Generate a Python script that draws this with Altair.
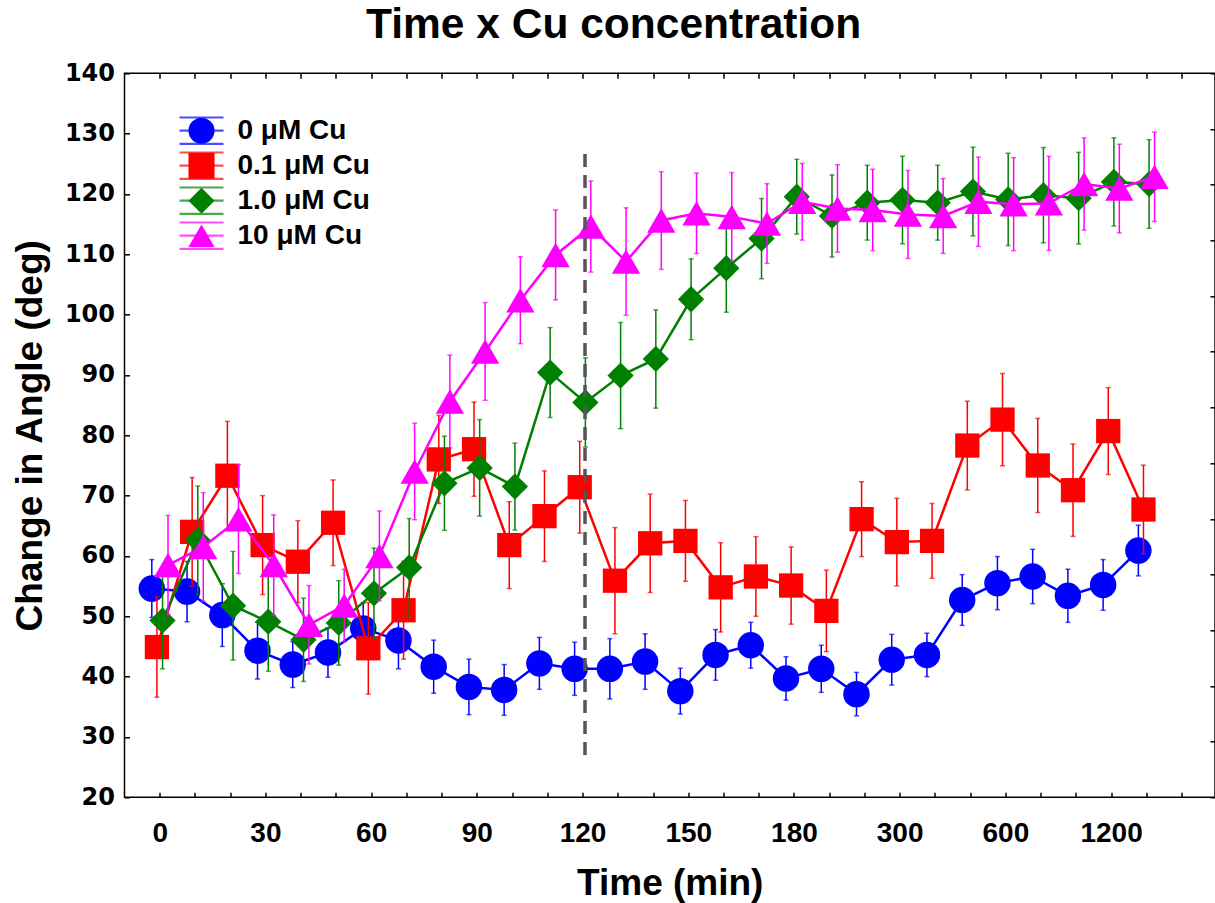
import altair as alt
import pandas as pd

# ---------------- data ----------------
time_tick_labels = ["0", "30", "60", "90", "120", "150", "180", "300", "600", "1200"]
series_names = ["0 μM Cu", "0.1 μM Cu", "1.0 μM Cu", "10 μM Cu"]

cu0_mean = [54.6, 54.1, 50.2, 44.3, 42.0, 44.0, 48.0, 46.0, 41.65, 38.3, 37.8, 42.2, 41.3, 41.3,
            42.5, 37.6, 43.6, 45.2, 39.7, 41.3, 37.1, 42.8, 43.6, 52.7, 55.5, 56.6, 53.4, 55.2, 60.9]
cu0_se = [4.8, 5.0, 5.2, 4.7, 3.8, 4.1, 4.2, 4.7, 4.4, 4.6, 4.2, 4.3, 4.4, 5.0,
          4.6, 3.8, 4.2, 3.8, 3.6, 3.9, 3.6, 4.2, 3.6, 4.2, 4.4, 4.5, 4.4, 4.2, 4.2]

cu01_mean = [44.9, 64.0, 73.3, 61.8, 59.05, 65.5, 44.7, 51.0, 76.0, 77.7, 61.8, 66.6, 71.4, 55.9,
             62.1, 62.5, 54.8, 56.6, 55.1, 50.9, 66.1, 62.3, 62.5, 78.3, 82.6, 75.0, 70.9, 80.7, 67.7]
cu01_se = [8.3, 9.0, 9.0, 8.2, 6.8, 7.1, 7.6, 8.1, 7.3, 7.8, 7.2, 7.5, 7.6, 8.8,
           8.15, 6.7, 7.4, 6.6, 6.4, 6.75, 6.2, 7.25, 6.2, 7.35, 7.65, 7.8, 7.65, 7.2, 7.35]

cu1_mean = [49.3, 62.6, 51.75, 49.1, 46.1, 48.9, 53.8, 58.1, 72.05, 74.6, 71.5, 90.4, 85.45, 89.9,
            92.65, 102.55, 107.7, 112.6, 119.55, 116.35, 118.55, 119.0, 118.55, 120.4, 119.1, 119.8,
            119.3, 122.0, 121.65]
cu1_se = [8.0, 9.0, 9.0, 8.2, 6.9, 7.0, 7.5, 8.1, 7.8, 8.0, 7.2, 7.45, 7.4, 8.8,
          8.15, 6.7, 7.3, 6.65, 6.2, 6.8, 6.2, 7.25, 6.2, 7.35, 7.65, 7.9, 7.6, 7.3, 7.35]

cu10_mean = [58.5, 61.5, 66.1, 58.5, 48.6, 51.8, 60.0, 74.0, 85.6, 93.9, 102.4, 109.9, 114.6, 108.8,
             115.6, 116.8, 116.2, 115.1, 118.7, 117.6, 117.35, 116.6, 116.35, 118.7, 118.3, 118.45,
             121.65, 120.9, 122.85]
cu10_se = [8.2, 9.0, 9.0, 8.3, 6.5, 6.0, 7.45, 8.0, 7.7, 8.1, 7.2, 7.45, 7.55, 8.9,
           8.1, 6.65, 7.35, 6.6, 6.35, 7.25, 6.75, 7.3, 6.2, 7.4, 7.7, 7.8, 7.65, 7.35, 7.4]

cu_added_index = [12.07]
cu_marker_from = [27]
cu_marker_to = [127]

# ---------------- styles ----------------
series_colors = ["#0000ff", "#ff0000", "#008000", "#ff00ff"]
series_shapes = ["circle", "square", "diamond", "triangle-up"]
marker_sizes = [700, 590, 690, 800]
dodge = [-0.225, -0.08, 0.08, 0.235]

x_domain = [-1, 29.95]
y_domain = [20, 140]

frames = []
for name, means, ses in zip(series_names, [cu0_mean, cu01_mean, cu1_mean, cu10_mean],
                            [cu0_se, cu01_se, cu1_se, cu10_se]):
    frames.append(pd.DataFrame({"series": name, "series_l": name, "idx": list(range(len(means))),
                                "mean": means, "se": ses}))
df = pd.concat(frames, ignore_index=True)

label_list = "[" + ",".join("'%s'" % t for t in time_tick_labels) + "]"
label_expr = "(datum.value %% 3 == 0 && datum.value / 3 < %d) ? %s[datum.value / 3] : ''" % (
    len(time_tick_labels), label_list)

FONT = "Liberation Sans"

x_scale = alt.Scale(domain=x_domain, nice=False, zero=False)
y_scale = alt.Scale(domain=y_domain, nice=False, zero=False)

x_axis = alt.Axis(values=list(range(30)), labelExpr=label_expr, tickSize=5, offset=-5, domain=False,
                  grid=False, labelFont=FONT, labelFontWeight="bold", labelFontSize=28, labelPadding=22,
                  labelOverlap=False, labelColor="black", tickColor="black", tickWidth=1.5,
                  title="Time (min)", titleFont=FONT, titleFontSize=37, titleFontWeight="bold",
                  titleColor="black", titleBaseline="alphabetic", titleY=102)
y_axis = alt.Axis(values=list(range(20, 141, 10)), tickSize=5, offset=-5, domain=False, grid=False,
                  labelFont="DejaVu Sans", labelFontWeight="bold", labelFontSize=24, labelPadding=10,
                  labelColor="black", tickColor="black", tickWidth=1.5,
                  title="Change in Angle (deg)", titleFont=FONT, titleFontSize=37, titleFontWeight="bold",
                  titleColor="black", titleBaseline="alphabetic", titleX=-88)

line_legend = alt.Legend(orient="none", legendX=53.5, legendY=40.3, title=None,
                         symbolType="M-1,0L1,0M-1,-0.6L1,-0.6M-1,0.6L1,0.6", symbolSize=1936,
                         symbolStrokeWidth=2.2, labelExpr="''", labelFontSize=27, clipHeight=34.2,
                         rowPadding=0, padding=0)
shape_legend = alt.Legend(orient="none", legendX=63, legendY=40.3, title=None, symbolSize=680,
                          symbolStrokeWidth=0, symbolOpacity=1, labelFont=FONT, labelFontWeight="bold",
                          labelFontSize=28, labelColor="black", labelOffset=22, clipHeight=34.2,
                          rowPadding=0, padding=0)

color_enc = alt.Color("series_l:N", scale=alt.Scale(range=series_colors), legend=line_legend)
fill_enc = alt.Fill("series:N", scale=alt.Scale(domain=series_names, range=series_colors), legend=shape_legend)
shape_enc = alt.Shape("series:N", scale=alt.Scale(domain=series_names, range=series_shapes), legend=shape_legend)

X = alt.X("pos:Q", scale=x_scale, axis=x_axis)

layers = []
for s, name in enumerate(series_names):
    base = alt.Chart(df).transform_filter(alt.datum.series == name).transform_calculate(
        pos="datum.idx + (%f)" % dodge[s], lo="datum.mean - datum.se", hi="datum.mean + datum.se")
    line = base.mark_line(strokeWidth=2.5).encode(
        x=X, y=alt.Y("mean:Q", scale=y_scale, axis=y_axis), color=color_enc)
    bars = base.mark_rule(strokeWidth=1.5).encode(
        x=X, y=alt.Y("lo:Q", scale=y_scale, axis=y_axis), y2="hi:Q", color=color_enc)
    cap_lo = base.mark_tick(orient="horizontal", size=5, thickness=1.5).encode(
        x=X, y=alt.Y("lo:Q", scale=y_scale, axis=y_axis), color=color_enc)
    cap_hi = base.mark_tick(orient="horizontal", size=5, thickness=1.5).encode(
        x=X, y=alt.Y("hi:Q", scale=y_scale, axis=y_axis), color=color_enc)
    pts = base.mark_point(filled=True, opacity=1, size=marker_sizes[s], strokeWidth=0).encode(
        x=X, y=alt.Y("mean:Q", scale=y_scale, axis=y_axis), fill=fill_enc, shape=shape_enc)
    layers += [line, bars, cap_lo, cap_hi, pts]

marker_df = pd.DataFrame({"t": cu_added_index, "y0": cu_marker_from, "y1": cu_marker_to})
dash = alt.Chart(marker_df).mark_rule(color="#555555", strokeWidth=3.5, strokeDash=[13, 8]).encode(
    x=alt.X("t:Q", scale=x_scale, axis=x_axis),
    y=alt.Y("y0:Q", scale=y_scale, axis=y_axis), y2="y1:Q")

main = alt.layer(*layers, dash)

frame_df = pd.DataFrame({"d": [0]})
frame_ticks = alt.Chart(frame_df).mark_point(opacity=0).encode(
    x=alt.X("d:Q", scale=alt.Scale(domain=x_domain, nice=False, zero=False),
            axis=alt.Axis(orient="top", values=list(range(30)), labels=False, tickSize=5, offset=-5,
                          domain=False, grid=False, title=None, tickColor="black", tickWidth=1.5)),
    y=alt.Y("d:Q", scale=alt.Scale(domain=[0, 13], nice=False, zero=False),
            axis=alt.Axis(orient="right", values=list(range(14)), labels=False, tickSize=5, offset=-5,
                          domain=False, grid=False, title=None, tickColor="black", tickWidth=1.5)))

chart = alt.layer(main, frame_ticks).resolve_scale(x="independent", y="independent").properties(
    width=1090.5, height=724,
    title=alt.TitleParams("Time x Cu concentration", font=FONT, fontSize=42.5, fontWeight="bold",
                          anchor="middle", frame="bounds", offset=15, color="black"),
    autosize=alt.AutoSizeParams(type="none"),
    padding={"left": 124.5, "top": 73.3, "right": 0, "bottom": 105.7},
    background="white",
).configure_view(stroke="black", strokeWidth=1.5)

chart.save("out.html", embed_options={"renderer": "svg", "actions": False})
